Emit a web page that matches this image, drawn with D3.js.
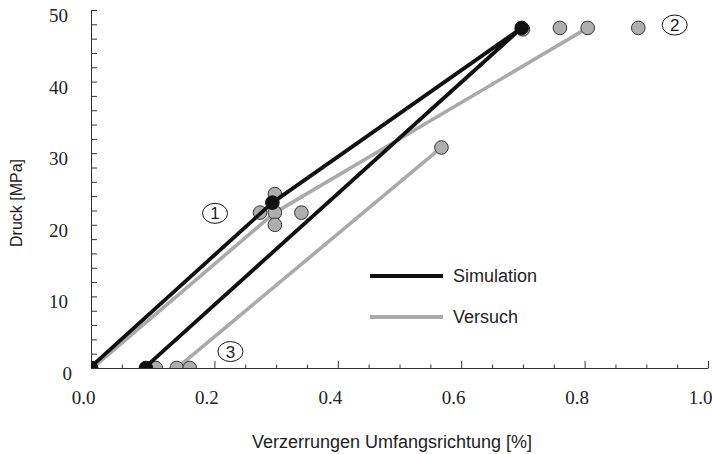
<!DOCTYPE html>
<meta charset="utf-8">
<head>
	<title>Druck - Verzerrungen</title>
</head>

<style>

body{
	margin: 0;
	background: #fff;
}

svg text.tick-label{
	font-family: "Liberation Serif", "Times New Roman", serif;
	font-size: 19px;
	fill: #222;
}

.title, .legend text, .anno text{
	font-family: "Liberation Sans", Arial, sans-serif;
	fill: #222;
}

path.curve{
	fill: none;
	stroke-linejoin: round;
	stroke-linecap: round;
}

</style>

<body>

<svg class="chart" width="712" height="454"></svg>

<script src="https://cdnjs.cloudflare.com/ajax/libs/d3/7.8.5/d3.min.js"></script>
<script>

// Simulation (schwarz)
var simX = [0.003, 0.294, 0.698, 0.089];
var simY = [0.4, 23.1, 47.5, 0.2];

// Versuch (grau) - zwei Linienzüge
var versAX = [0.005, 0.298, 0.805];
var versAY = [0.2, 21.7, 47.5];
var versBX = [0.142, 0.568];
var versBY = [0.2, 30.8];

// Versuch Messpunkte
var ptX = [0.0, 0.274, 0.298, 0.341, 0.298, 0.298, 0.105, 0.139, 0.160, 0.568, 0.700, 0.760, 0.805, 0.887];
var ptY = [0.0, 21.7, 21.7, 21.7, 24.3, 20.0, 0.0, 0.0, 0.0, 30.8, 47.3, 47.5, 47.5, 47.5];

// Simulation Punkte
var simPtX = [0.0, 0.294, 0.698, 0.089];
var simPtY = [0.0, 23.1, 47.5, 0.0];

// Markierungen 1, 2, 3
var annoText = ['1', '2', '3'];
var annoX = [0.201, 0.946, 0.226];
var annoY = [21.6, 47.9, 2.3];

var xTicks = [0.0, 0.2, 0.4, 0.6, 0.8, 1.0];
var yTicks = [0, 10, 20, 30, 40, 50];

var seriesNames = ['Simulation', 'Versuch'];
var seriesColors = ['#111111', '#aaaaaa'];

var svg = d3.select('.chart');

var x = d3.scaleLinear().domain([0, 1]).range([91, 708]);
var y = d3.scaleLinear().domain([0, 50]).range([368, 10]);

function zip(a, b){
	return a.map(function(d, i){ return [d, b[i]]; });
}

// clip
svg.append('clipPath')
	.attr('id', 'plot')
	.append('rect')
	.attr('x', x(0))
	.attr('y', y(50))
	.attr('width', x(1) - x(0))
	.attr('height', y(0) - y(50));

// x axis minor
var xMinor = d3.range(0, 1.0001, 0.05).filter(function(d){
	return Math.abs(d * 5 - Math.round(d * 5)) > 1e-6;
});
svg.append('g')
	.attr('transform', 'translate(0,' + y(0) + ')')
	.call(d3.axisBottom(x).tickValues(xMinor).tickSizeInner(-3.5).tickSizeOuter(0).tickFormat(''))
	.call(function(g){ g.select('.domain').remove(); });

// x axis major
var xAxis = svg.append('g')
	.attr('transform', 'translate(0,' + y(0) + ')')
	.call(d3.axisBottom(x).tickValues(xTicks).tickSizeInner(-7).tickSizeOuter(0).tickPadding(23).tickFormat(d3.format('.1f')));
xAxis.selectAll('text')
	.attr('class', 'tick-label')
	.attr('dx', -8)
	.attr('font-family', null)
	.attr('font-size', null);

// y axis minor
var yMinor = d3.range(2, 50, 2).filter(function(d){ return d % 10 !== 0; });
svg.append('g')
	.attr('transform', 'translate(' + x(0) + ',0)')
	.call(d3.axisLeft(y).tickValues(yMinor).tickSizeInner(-6).tickSizeOuter(0).tickFormat(''))
	.call(function(g){ g.select('.domain').remove(); });

// y axis major
var yAxis = svg.append('g')
	.attr('transform', 'translate(' + x(0) + ',0)')
	.call(d3.axisLeft(y).tickValues(yTicks).tickSizeInner(-6).tickSizeOuter(0).tickPadding(23).tickFormat(d3.format('d')));
yAxis.selectAll('text')
	.attr('class', 'tick-label')
	.attr('dy', '0.6em')
	.attr('dx', function(d){ return d === 0 ? 4 : 0; })
	.attr('font-family', null)
	.attr('font-size', null);

svg.selectAll('.domain, .tick line').attr('stroke', '#333');

// Linien
var line = d3.line()
	.x(function(d){ return x(d[0]); })
	.y(function(d){ return y(d[1]); });

var plot = svg.append('g').attr('clip-path', 'url(#plot)');

plot.selectAll('path.vers')
	.data([zip(versAX, versAY), zip(versBX, versBY)])
	.enter()
	.append('path')
	.attr('class', 'curve vers')
	.attr('d', line)
	.attr('stroke', seriesColors[1])
	.attr('stroke-width', 3.6);

plot.selectAll('circle.vers')
	.data(zip(ptX, ptY))
	.enter()
	.append('circle')
	.attr('class', 'vers')
	.attr('cx', function(d){ return x(d[0]); })
	.attr('cy', function(d){ return y(d[1]); })
	.attr('r', 6.8)
	.attr('fill', '#aeaeae')
	.attr('stroke', '#333')
	.attr('stroke-width', 1);

plot.append('path')
	.datum(zip(simX, simY))
	.attr('class', 'curve sim')
	.attr('d', line)
	.attr('stroke', seriesColors[0])
	.attr('stroke-width', 3.8);

plot.selectAll('circle.sim')
	.data(zip(simPtX, simPtY))
	.enter()
	.append('circle')
	.attr('class', 'sim')
	.attr('cx', function(d){ return x(d[0]); })
	.attr('cy', function(d){ return y(d[1]); })
	.attr('r', 6.8)
	.attr('fill', '#111')
	.attr('stroke', '#111')
	.attr('stroke-width', 1);

// Markierungen
var anno = svg.append('g').attr('class', 'anno')
	.selectAll('g')
	.data(annoText)
	.enter()
	.append('g')
	.attr('transform', function(d, i){
		return 'translate(' + x(annoX[i]) + ',' + y(annoY[i]) + ')';
	});

anno.append('ellipse')
	.attr('rx', 12.5)
	.attr('ry', 10)
	.attr('fill', '#fff')
	.attr('stroke', '#111')
	.attr('stroke-width', 1);

anno.append('text')
	.attr('text-anchor', 'middle')
	.attr('dy', '0.36em')
	.style('font-size', '17px')
	.text(function(d){ return d; });

// Legende
var legend = svg.append('g').attr('class', 'legend')
	.selectAll('g')
	.data(seriesNames)
	.enter()
	.append('g')
	.attr('transform', function(d, i){
		return 'translate(370,' + (276 + i * 41) + ')';
	});

legend.append('line')
	.attr('x1', 0)
	.attr('x2', 73)
	.attr('stroke', function(d, i){ return seriesColors[i]; })
	.attr('stroke-width', 4);

legend.append('text')
	.attr('x', 83)
	.attr('dy', '0.35em')
	.style('font-size', '18px')
	.text(function(d){ return d; });

// Achsentitel
svg.append('text')
	.attr('class', 'title')
	.attr('x', 392)
	.attr('y', 448)
	.attr('text-anchor', 'middle')
	.style('font-size', '18px')
	.text('Verzerrungen Umfangsrichtung [%]');

svg.append('text')
	.attr('class', 'title')
	.attr('transform', 'translate(22,203) rotate(-90)')
	.attr('text-anchor', 'middle')
	.style('font-size', '16px')
	.text('Druck [MPa]');

</script>

</body>
</html>
